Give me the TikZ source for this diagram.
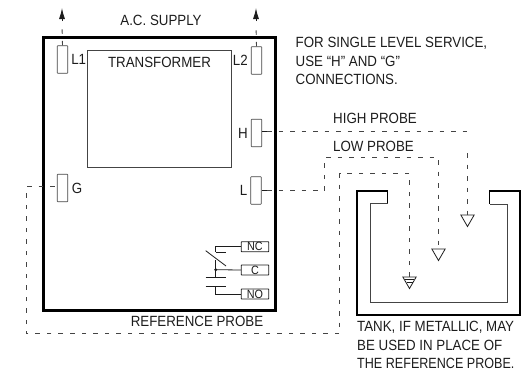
\documentclass[tikz,border=0pt]{standalone}
\usepackage{fontspec}
\setmainfont[FakeStretch=0.9]{Liberation Sans}
\usetikzlibrary{arrows.meta,positioning,shapes.geometric}
\definecolor{ink}{HTML}{1c1c1c}
\definecolor{wire}{HTML}{444444}
\begin{document}
\begin{tikzpicture}[x=1pt,y=-1pt,>={Latex[length=11pt,width=6pt]},font=\fontsize{14.8}{18}\selectfont,text=ink,
  term/.style={draw=wire,minimum width=10.5pt,minimum height=27.5pt,inner sep=0pt,rounded corners=0.5pt,line width=0.7pt},
  relay/.style={draw=ink,minimum width=27.5pt,minimum height=10pt,inner sep=0pt,rounded corners=0.5pt,line width=0.9pt,font=\fontsize{12}{12}\selectfont},
  probe/.style={draw=ink,regular polygon,regular polygon sides=3,shape border rotate=180,minimum size=15.5pt,inner sep=0pt,anchor=north,line width=0.8pt},
  note/.style={align=left,anchor=north west,inner sep=0pt,font=\fontsize{14.8}{18.6}\selectfont},
  dashline/.style={draw=wire,line width=0.9pt,dash pattern=on 4.5pt off 7pt},
  wireline/.style={draw=ink,line width=0.8pt}]
  \useasboundingbox (0,0) rectangle (523,372);
  \node[draw=black,line width=3.2pt,minimum width=232.5pt,minimum height=273pt,inner sep=0pt] (case) at (159.5,174) {};
  \node[draw=wire,line width=0.7pt,minimum width=143.5pt,minimum height=117pt,inner sep=0pt] (trafo) at (159.5,108.5) {};
  \node (trafotxt) at (159.5,62) {TRANSFORMER};
  \node (supply) at (161,20) {A.C. SUPPLY};
  \node[term] (L1) at (62.5,59.5) {};
  \node[term] (L2) at (256.5,60.5) {};
  \node[term] (H) at (256.5,133) {};
  \node[term] (L) at (256,190.5) {};
  \node[term] (G) at (62.5,188) {};
  \node[right=2pt of L1,inner sep=1pt] (L1txt) {L1};
  \node[left=2pt of L2,inner sep=1pt] (L2txt) {L2};
  \node[left=2pt of H,inner sep=1pt] (Htxt) {H};
  \node[left=2pt of L,inner sep=1pt] (Ltxt) {L};
  \node[right=2.5pt of G,inner sep=1pt] (Gtxt) {G};
  \coordinate (arrowA) at (62,8);
  \coordinate (arrowB) at (256,8);
  \draw[->,line width=0.9pt,ink] (62,21) -- (arrowA);
  \draw[->,line width=0.9pt,ink] (256,21) -- (arrowB);
  \draw[dashline] (L1.north) -- (62,24);
  \draw[dashline] (L2.north) -- (256,24);
  \coordinate (Hstub) at (267,131.5);
  \coordinate (Lstub) at (267,190.5);
  \coordinate (Hcorner) at (467.5,131.5);
  \coordinate (Hdrop) at (467.5,153);
  \coordinate (Lup) at (324.5,190.5);
  \coordinate (Ltop) at (324.5,157.5);
  \coordinate (Lcorner) at (438.5,157.5);
  \coordinate (Rcorner) at (409.5,173.5);
  \coordinate (Rleft) at (339.5,173.5);
  \coordinate (Rlow) at (339.5,333.5);
  \coordinate (Gleft) at (26.5,333.5);
  \coordinate (Gup) at (26.5,186.5);
  \node[probe] (phigh) at (467.5,214.5) {};
  \node[probe] (plow) at (438.5,248.5) {};
  \node[probe] (pref) at (409.5,276.5) {};
  \draw[wireline] (H.east |- Hstub) -- (Hstub);
  \draw[wireline] (L.east |- Lstub) -- (Lstub);
  \draw[dashline] (Hstub) -- (Hcorner) -- ++(0,3);
  \draw[dashline] (Hdrop) -- (phigh.north);
  \draw[dashline] (Lstub) -- (Lup) -- (Ltop) -- (Lcorner) -- (plow.north);
  \draw[dashline] (pref.north) -- (Rcorner) -- (Rleft) -- (Rlow) -- (Gleft) -- (Gup) -- (G.west |- Gup);
  \draw[ink,line width=0.7pt] ([shift={(-4.5,3)}]pref.north) -- ++(9,0);
  \draw[ink,line width=0.7pt] ([shift={(-3,6)}]pref.north) -- ++(6,0);
  \draw[black,line width=1.6pt,line join=miter] (387.5,203) -- (387.5,191) -- (357,191) -- (357,315) -- (520,315) -- (520,191) -- (489.5,191) -- (489.5,204);
  \draw[wire,line width=0.9pt] (387.5,203) -- (370,203) -- (370,302) -- (507.5,302) -- (507.5,204) -- (489.5,204);
  \node[relay] (NC) at (255,246.7) {NC};
  \node[relay] (C) at (255,270) {C};
  \node[relay] (NO) at (255,294) {NO};
  \coordinate (swNC) at (215.7,252.3);
  \coordinate (swC) at (215.7,269.7);
  \coordinate (swNO) at (215.7,286.3);
  \draw[wireline] (NC.west) -| (swNC);
  \draw[wireline] (NO.west) -| (swNO);
  \draw[wireline] (C.west) -- (swC);
  \draw[wireline] (swC |- 0,260) -- (swC |- 0,277.3);
  \draw[wireline] (swNC) -- ++(10.5,0);
  \draw[wireline] (205.7,250.7) -- (226,266);
  \draw[wireline] (205.7,277.3) -- (226,277.3);
  \draw[wireline] (205.7,286.3) -- (226,286.3);
  \fill[ink] (swC) circle (1.6pt);
  \node[anchor=west,inner sep=0pt] (hightxt) at (333,118.5) {HIGH PROBE};
  \node[anchor=west,inner sep=0pt] (lowtxt) at (333,146) {LOW PROBE};
  \node (reftxt) at (197,321) {REFERENCE PROBE};
  \node[note] (service) at (295.5,37) {FOR SINGLE LEVEL SERVICE,\\USE ``H'' AND ``G''\\CONNECTIONS.};
  \node[note] (tank) at (357,321) {TANK, IF METALLIC, MAY\\BE USED IN PLACE OF\\\addfontfeature{FakeStretch=0.85}THE REFERENCE PROBE.};
\end{tikzpicture}
\end{document}
